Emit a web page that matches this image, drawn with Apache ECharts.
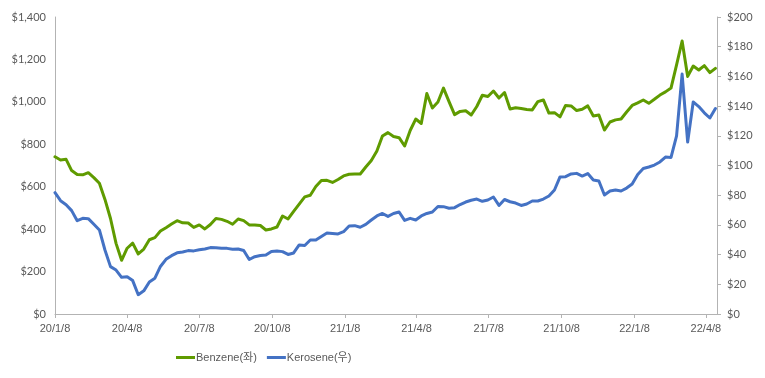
<!DOCTYPE html>
<html>
<head>
<meta charset="utf-8">
<script src="https://cdn.jsdelivr.net/npm/echarts@6/dist/echarts.min.js"></script>
<style>
  html, body { margin: 0; padding: 0; background: #fff; }
  #chart { width: 765px; height: 378px; }
</style>
</head>
<body>
<div id="chart"></div>
<script>
// weekly prices, first week 2020-01-08
var startDate = '2020-01-08';
var benzene = [
  741, 726, 729, 676, 658, 656, 666, 643, 616, 540,
  450, 333, 253, 310, 334, 283, 306, 350, 360, 391,
  407, 424, 440, 430, 429, 408, 420, 401, 422, 450,
  446, 437, 423, 448, 440, 420, 420, 417, 396, 401,
  410, 462, 448, 484, 518, 552, 560, 601, 629, 630,
  620, 634, 651, 659, 660, 660, 693, 724, 768, 839,
  855, 837, 831, 792, 865, 919, 898, 1039, 971, 999,
  1065, 1001, 940, 955, 958, 938, 978, 1031, 1025, 1051,
  1018, 1044, 966, 972, 969, 964, 962, 1001, 1009, 947,
  949, 929, 983, 981, 959, 965, 981, 933, 938, 867,
  905, 915, 919, 952, 983, 995, 1009, 993, 1012, 1032,
  1047, 1065, 1174, 1287, 1120, 1169, 1150, 1171, 1138, 1158
];
var kerosene = [
  81.7, 76.3, 73.6, 69.6, 62.8, 64.4, 64.2, 60.4, 56.6, 43.1,
  31.9, 29.6, 24.7, 25.1, 22.5, 13.0, 15.6, 21.6, 24.1, 32.0,
  36.8, 39.3, 41.2, 41.8, 42.7, 42.5, 43.2, 43.8, 44.7, 44.6,
  44.2, 44.2, 43.6, 43.8, 42.8, 36.7, 38.6, 39.4, 39.7, 42.1,
  42.4, 42.0, 40.1, 41.1, 46.5, 46.1, 49.8, 49.8, 52.2, 54.5,
  54.2, 53.9, 55.4, 59.3, 59.5, 58.4, 60.3, 63.3, 66.0, 67.7,
  65.7, 67.7, 68.7, 63.0, 64.4, 63.3, 66.0, 67.7, 68.7, 72.4,
  72.3, 71.2, 71.6, 73.7, 75.4, 76.6, 77.4, 75.9, 76.8, 78.8,
  73.1, 77.1, 75.6, 74.7, 73.1, 74.1, 76.1, 76.1, 77.4, 79.5,
  83.5, 92.3, 92.5, 94.3, 94.7, 92.9, 94.6, 90.2, 89.6, 80.1,
  82.8, 83.5, 82.8, 84.8, 87.5, 93.9, 98.0, 99.0, 100.3, 102.4,
  105.7, 105.4, 119.9, 161.6, 115.8, 142.8, 139.7, 135.5, 132.0, 138.4
];
var xTickLabels = ['20/1/8', '20/4/8', '20/7/8', '20/10/8', '21/1/8', '21/4/8', '21/7/8', '21/10/8', '22/1/8', '22/4/8'];
var seriesNames = ['Benzene(좌)', 'Kerosene(우)'];

var DAY = 86400000;
var t0 = Date.parse(startDate + 'T00:00:00Z');

// 'yy/m/d' -> days since start
function labelToDay(s) {
  var p = s.split('/');
  return Math.round((Date.UTC(2000 + +p[0], +p[1] - 1, +p[2]) - t0) / DAY);
}
var tickDays = xTickLabels.map(labelToDay);

function toPoints(vals) {
  return vals.map(function (v, i) { return [i * 7, v]; });
}

var labelFont = 'Lato, "Noto Sans", sans-serif';
var smallFont = '"Liberation Sans", "Noto Sans CJK KR", sans-serif';
var axisColor = '#b3b3b3';
var textColor = '#595959';

var chart = echarts.init(document.getElementById('chart'), null, { renderer: 'canvas' });

var option = {
  backgroundColor: '#ffffff',
  animation: false,
  color: ['#5f9b00', '#4472c4'],
  grid: { left: 55, right: 48, top: 17, bottom: 64 },
  legend: {
    left: 176,
    top: 352,
    padding: 0,
    itemWidth: 19,
    itemHeight: 3,
    itemGap: 10,
    icon: 'rect',
    textStyle: { fontFamily: smallFont, fontSize: 11, color: textColor, padding: [0, 0, 0, -4] },
    data: seriesNames
  },
  xAxis: {
    type: 'value',
    min: 0,
    max: 835,
    axisLine: { show: true, lineStyle: { color: axisColor } },
    axisTick: { show: true, length: 4, customValues: tickDays, lineStyle: { color: axisColor } },
    axisLabel: {
      customValues: tickDays,
      margin: 9,
      fontFamily: smallFont,
      fontSize: 11,
      color: textColor,
      formatter: function (v) {
        var i = tickDays.indexOf(Math.round(v));
        return i >= 0 ? xTickLabels[i] : '';
      }
    },
    splitLine: { show: false }
  },
  yAxis: [{
    type: 'value',
    min: 0,
    max: 1400,
    interval: 200,
    axisLine: { show: true, lineStyle: { color: axisColor } },
    axisTick: { show: false },
    splitLine: { show: false },
    axisLabel: {
      margin: 9,
      fontFamily: labelFont,
      fontSize: 11,
      color: textColor,
      formatter: function (v) { return '$' + v.toLocaleString('en-US'); }
    }
  }, {
    type: 'value',
    min: 0,
    max: 200,
    interval: 20,
    position: 'right',
    axisLine: { show: true, lineStyle: { color: axisColor } },
    axisTick: { show: true, length: 4, lineStyle: { color: axisColor } },
    splitLine: { show: false },
    axisLabel: {
      margin: 10,
      fontFamily: labelFont,
      fontSize: 11,
      color: textColor,
      formatter: function (v) { return '$' + v; }
    }
  }],
  series: [{
    name: seriesNames[0],
    type: 'line',
    yAxisIndex: 0,
    showSymbol: false,
    lineStyle: { width: 3, cap: 'round', join: 'round' },
    data: toPoints(benzene)
  }, {
    name: seriesNames[1],
    type: 'line',
    yAxisIndex: 1,
    showSymbol: false,
    lineStyle: { width: 3, cap: 'round', join: 'round' },
    data: toPoints(kerosene)
  }]
};

chart.setOption(option);
</script>
</body>
</html>
